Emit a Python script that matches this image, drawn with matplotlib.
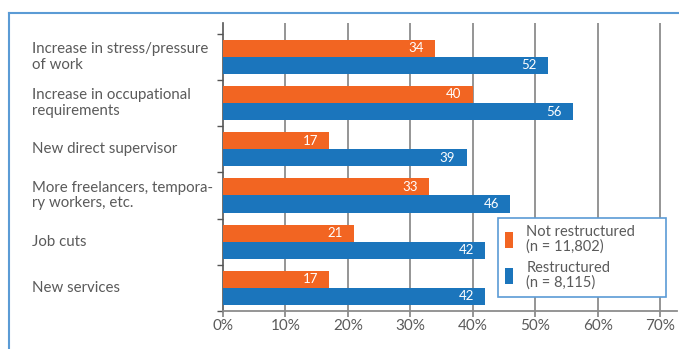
import numpy as np
import matplotlib
matplotlib.use('Agg')
import matplotlib.pyplot as plt
from matplotlib.patches import Patch
from matplotlib.lines import Line2D
from matplotlib.transforms import blended_transform_factory

plt.rcParams['font.family'] = ['Lato', 'DejaVu Sans']

categories = ['Increase in stress/pressure\nof work',
              'Increase in occupational\nrequirements',
              'New direct supervisor',
              'More freelancers, tempora-\nry workers, etc.',
              'Job cuts',
              'New services']
not_restructured = [34, 40, 17, 33, 21, 17]
restructured = [52, 56, 39, 46, 42, 42]
series_names = ['Not restructured\n(n = 11,802)', 'Restructured\n(n = 8,115)']
x_ticks = [0, 10, 20, 30, 40, 50, 60, 70]

orange = '#f26522'
blue = '#1b75bc'
text_col = '#5a5a5a'
frame_col = '#5b9bd5'

W, H = 679, 349
fig = plt.figure(figsize=(W / 100, H / 100), dpi=100)

# blue frame (open at right and bottom, as in the cropped original)
fig.add_artist(Line2D([9 / W, 9 / W], [0, 1 - 13 / H], color=frame_col, lw=1.5, transform=fig.transFigure))
fig.add_artist(Line2D([9 / W, 1], [1 - 13 / H, 1 - 13 / H], color=frame_col, lw=1.5, transform=fig.transFigure))

ax = fig.add_axes([223 / W, 1 - 311 / H, (677 - 223) / W, (311 - 23) / H])
ax.set_xlim(0, 72.7)
ax.set_ylim(0, 6.23)

n = len(categories)
centers = np.arange(n)[::-1] + 0.5
h = 0.37
ax.barh(centers + h / 2, not_restructured, height=h, color=orange, zorder=3)
ax.barh(centers - h / 2, restructured, height=h, color=blue, zorder=3)

for c, v1, v2 in zip(centers, not_restructured, restructured):
    ax.text(v1 - 1.8, c + h / 2, str(v1), ha='right', va='center', color='white', fontsize=9.5, zorder=4)
    ax.text(v2 - 1.8, c - h / 2, str(v2), ha='right', va='center', color='white', fontsize=9.5, zorder=4)

lab_tr = blended_transform_factory(fig.transFigure, ax.transData)
for c, lab in zip(centers, categories):
    ax.text(32 / W, c, lab, transform=lab_tr,
            ha='left', va='center', color=text_col, fontsize=10.8, linespacing=1.15)

for xv in x_ticks[1:]:
    ax.axvline(xv, color='#8c8c8c', lw=1.3, zorder=1)

ax.set_xticks(x_ticks)
ax.set_xticklabels([f'{v}%' for v in x_ticks], color=text_col, fontsize=11)
ax.set_yticks(range(n + 1))
ax.set_yticklabels([])
ax.tick_params(axis='x', length=4, width=1.3, color='#8c8c8c', pad=2)
ax.tick_params(axis='y', length=4, width=1, color='#555555')

for s in ['top', 'right']:
    ax.spines[s].set_visible(False)
ax.spines['left'].set_color('#555555')
ax.spines['left'].set_linewidth(1.2)
ax.spines['bottom'].set_color('#8c8c8c')
ax.spines['bottom'].set_linewidth(1.3)

handles = [Patch(facecolor=orange, edgecolor='none'), Patch(facecolor=blue, edgecolor='none')]
leg = fig.legend(handles, series_names, loc='upper left', mode='expand',
                 bbox_to_anchor=(498 / W, 1 - 296 / H, 168 / W, 78 / H), bbox_transform=fig.transFigure,
                 borderaxespad=0, fancybox=False, framealpha=1, edgecolor=frame_col, fontsize=10.5,
                 handlelength=0.6, handleheight=1.4, handletextpad=0.9,
                 labelspacing=0.45, borderpad=0.45, labelcolor=text_col)
leg.get_frame().set_linewidth(1.2)
for t in leg.get_texts():
    t.set_linespacing(1.1)

fig.savefig('out.png', dpi=100)
